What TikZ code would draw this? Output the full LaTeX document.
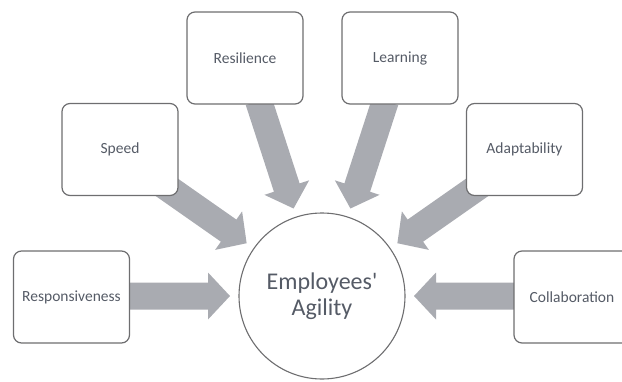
\documentclass[tikz,border=0pt]{standalone}
\usepackage{fontspec}
\setmainfont{Carlito}
\usetikzlibrary{calc,backgrounds}
\definecolor{boxline}{HTML}{6E6E70}
\definecolor{txtgray}{HTML}{555B66}
\definecolor{arrowgray}{HTML}{A9ABB1}
\tikzset{
  factor/.style={draw=boxline, line width=1.2pt, fill=white, rounded corners=8pt,
    minimum width=116pt, minimum height=92pt, inner sep=0pt,
    font=\fontsize{15.5}{17}\selectfont, text=txtgray},
  center/.style={circle, draw=boxline, line width=1.1pt, fill=white,
    minimum size=166pt, inner sep=0pt, outer sep=0pt, align=center,
    font=\fontsize{24}{26}\selectfont, text=txtgray},
  blockfill/.style={fill=arrowgray}
}
\newcommand{\blockarrow}[2]{%
  \coordinate (hb) at ($(#2)!22pt!(#1)$);
  \fill[blockfill] ($(#1)!13.5pt!90:(#2)$) -- ($(hb)!13.5pt!90:(#2)$)
    -- ($(hb)!23.5pt!90:(#2)$) -- (#2) -- ($(hb)!23.5pt!-90:(#2)$)
    -- ($(hb)!13.5pt!-90:(#2)$) -- ($(#1)!13.5pt!-90:(#2)$) -- cycle;}
\begin{document}
\begin{tikzpicture}[x=1pt,y=-1pt]
\useasboundingbox (0,0) rectangle (622,381);
\node[center] (circ) at (322,296) {Employees\textquotesingle\\Agility};
\node[factor] (resp) at (71.5,297) {Responsiveness};
\node[factor] (speed) at (120,149.5) {Speed};
\node[factor] (resil) at (245,58) {Resilience};
\node[factor] (learn) at (400,58) {Learning};
\node[factor] (adapt) at (524.5,149.5) {Adaptability};
\node[factor] (collab) at (572,297) {Collaboration};
\begin{pgfonlayer}{background}
\foreach \ang/\nm in {180/resp,145/speed,108/resil,72/learn,35/adapt,0/collab}{
  \coordinate (s-\nm) at ($(circ.center)!205pt!(circ.\ang)$);
  \coordinate (t-\nm) at ($(circ.center)!92pt!(circ.\ang)$);
  \blockarrow{s-\nm}{t-\nm}
}
\end{pgfonlayer}
\end{tikzpicture}
\end{document}
